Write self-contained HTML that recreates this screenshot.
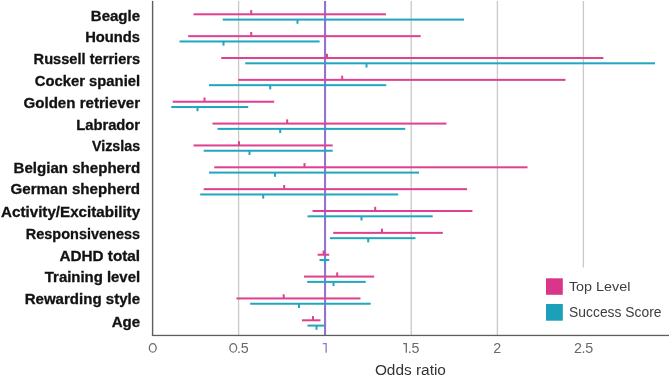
<!DOCTYPE html>
<html><head><meta charset="utf-8"><style>
html,body{margin:0;padding:0;background:#fff;}
body{width:669px;height:375px;overflow:hidden;position:relative;}
svg{position:absolute;left:0;top:0;will-change:transform;}
text{font-family:"Liberation Sans",sans-serif;}
</style></head><body>
<svg width="669" height="375" viewBox="0 0 669 375">

<rect x="237.95" y="1" width="1.3" height="334.00" fill="#c9c9c9"/>
<rect x="410.55" y="1" width="1.3" height="334.00" fill="#c9c9c9"/>
<rect x="496.75" y="1" width="1.3" height="334.00" fill="#c9c9c9"/>
<rect x="582.75" y="1" width="1.3" height="266.50" fill="#c9c9c9"/>
<rect x="324" y="1" width="2.1" height="334.5" fill="#9474ca"/>
<rect x="193.50" y="13.30" width="192.50" height="2.0" fill="#dd4190"/>
<rect x="250.20" y="10.10" width="2" height="4.20" fill="#dd4190"/>
<rect x="188.20" y="35.16" width="232.50" height="2.0" fill="#dd4190"/>
<rect x="250.20" y="31.96" width="2" height="4.20" fill="#dd4190"/>
<rect x="221.20" y="57.01" width="382.20" height="2.0" fill="#dd4190"/>
<rect x="326.00" y="53.81" width="2" height="4.20" fill="#dd4190"/>
<rect x="238.20" y="78.87" width="327.30" height="2.0" fill="#dd4190"/>
<rect x="341.20" y="75.67" width="2" height="4.20" fill="#dd4190"/>
<rect x="172.70" y="100.73" width="101.50" height="2.0" fill="#dd4190"/>
<rect x="203.50" y="97.53" width="2" height="4.20" fill="#dd4190"/>
<rect x="212.50" y="122.58" width="234.00" height="2.0" fill="#dd4190"/>
<rect x="286.20" y="119.38" width="2" height="4.20" fill="#dd4190"/>
<rect x="193.50" y="144.44" width="139.20" height="2.0" fill="#dd4190"/>
<rect x="238.00" y="141.24" width="2" height="4.20" fill="#dd4190"/>
<rect x="214.20" y="166.30" width="313.30" height="2.0" fill="#dd4190"/>
<rect x="303.50" y="163.10" width="2" height="4.20" fill="#dd4190"/>
<rect x="203.70" y="188.16" width="263.40" height="2.0" fill="#dd4190"/>
<rect x="283.20" y="184.96" width="2" height="4.20" fill="#dd4190"/>
<rect x="312.50" y="210.01" width="159.90" height="2.0" fill="#dd4190"/>
<rect x="374.20" y="206.81" width="2" height="4.20" fill="#dd4190"/>
<rect x="333.20" y="231.87" width="109.60" height="2.0" fill="#dd4190"/>
<rect x="381.00" y="228.67" width="2" height="4.20" fill="#dd4190"/>
<rect x="317.60" y="253.73" width="11.60" height="2.0" fill="#dd4190"/>
<rect x="322.60" y="250.53" width="2" height="4.20" fill="#dd4190"/>
<rect x="304.00" y="275.58" width="70.20" height="2.0" fill="#dd4190"/>
<rect x="336.20" y="272.38" width="2" height="4.20" fill="#dd4190"/>
<rect x="236.50" y="297.44" width="124.00" height="2.0" fill="#dd4190"/>
<rect x="282.70" y="294.24" width="2" height="4.20" fill="#dd4190"/>
<rect x="302.00" y="319.30" width="18.50" height="2.0" fill="#dd4190"/>
<rect x="312.00" y="316.10" width="2" height="4.20" fill="#dd4190"/>
<rect x="222.70" y="18.60" width="241.30" height="2.0" fill="#22a6bf"/>
<rect x="296.50" y="19.60" width="2" height="4.20" fill="#22a6bf"/>
<rect x="179.50" y="40.46" width="140.10" height="2.0" fill="#22a6bf"/>
<rect x="222.50" y="41.46" width="2" height="4.20" fill="#22a6bf"/>
<rect x="245.20" y="62.31" width="409.80" height="2.0" fill="#22a6bf"/>
<rect x="365.50" y="63.31" width="2" height="4.20" fill="#22a6bf"/>
<rect x="209.00" y="84.17" width="177.20" height="2.0" fill="#22a6bf"/>
<rect x="269.20" y="85.17" width="2" height="4.20" fill="#22a6bf"/>
<rect x="171.20" y="106.03" width="77.00" height="2.0" fill="#22a6bf"/>
<rect x="196.50" y="107.03" width="2" height="4.20" fill="#22a6bf"/>
<rect x="217.50" y="127.88" width="187.70" height="2.0" fill="#22a6bf"/>
<rect x="279.20" y="128.88" width="2" height="4.20" fill="#22a6bf"/>
<rect x="203.70" y="149.74" width="129.00" height="2.0" fill="#22a6bf"/>
<rect x="248.50" y="150.74" width="2" height="4.20" fill="#22a6bf"/>
<rect x="209.00" y="171.60" width="210.00" height="2.0" fill="#22a6bf"/>
<rect x="274.00" y="172.60" width="2" height="4.20" fill="#22a6bf"/>
<rect x="200.20" y="193.46" width="198.00" height="2.0" fill="#22a6bf"/>
<rect x="262.20" y="194.46" width="2" height="4.20" fill="#22a6bf"/>
<rect x="307.50" y="215.31" width="125.20" height="2.0" fill="#22a6bf"/>
<rect x="360.50" y="216.31" width="2" height="4.20" fill="#22a6bf"/>
<rect x="330.00" y="237.17" width="85.50" height="2.0" fill="#22a6bf"/>
<rect x="367.20" y="238.17" width="2" height="4.20" fill="#22a6bf"/>
<rect x="319.50" y="259.03" width="9.70" height="2.0" fill="#22a6bf"/>
<rect x="324.00" y="260.03" width="2" height="4.20" fill="#22a6bf"/>
<rect x="307.20" y="280.88" width="58.50" height="2.0" fill="#22a6bf"/>
<rect x="332.50" y="281.88" width="2" height="4.20" fill="#22a6bf"/>
<rect x="250.20" y="302.74" width="120.50" height="2.0" fill="#22a6bf"/>
<rect x="298.00" y="303.74" width="2" height="4.20" fill="#22a6bf"/>
<rect x="307.50" y="324.60" width="17.00" height="2.0" fill="#22a6bf"/>
<rect x="315.50" y="325.60" width="2" height="4.20" fill="#22a6bf"/>
<rect x="151.9" y="0.9" width="1.4" height="335.1" fill="#5e5e5e"/>
<rect x="151.9" y="334.8" width="517.1" height="1.3" fill="#5e5e5e"/>
<text x="90.80" y="20.50" font-size="14.2" font-weight="bold" fill="#121212" stroke="#121212" stroke-width="0.3" textLength="49.30" lengthAdjust="spacingAndGlyphs">Beagle</text>
<text x="85.20" y="42.20" font-size="14.2" font-weight="bold" fill="#121212" stroke="#121212" stroke-width="0.3" textLength="54.90" lengthAdjust="spacingAndGlyphs">Hounds</text>
<text x="33.60" y="63.90" font-size="14.2" font-weight="bold" fill="#121212" stroke="#121212" stroke-width="0.3" textLength="106.50" lengthAdjust="spacingAndGlyphs">Russell terriers</text>
<text x="34.80" y="86.00" font-size="14.2" font-weight="bold" fill="#121212" stroke="#121212" stroke-width="0.3" textLength="105.30" lengthAdjust="spacingAndGlyphs">Cocker spaniel</text>
<text x="23.50" y="107.70" font-size="14.2" font-weight="bold" fill="#121212" stroke="#121212" stroke-width="0.3" textLength="116.60" lengthAdjust="spacingAndGlyphs">Golden retriever</text>
<text x="76.20" y="129.50" font-size="14.2" font-weight="bold" fill="#121212" stroke="#121212" stroke-width="0.3" textLength="63.90" lengthAdjust="spacingAndGlyphs">Labrador</text>
<text x="91.90" y="151.00" font-size="14.2" font-weight="bold" fill="#121212" stroke="#121212" stroke-width="0.3" textLength="48.20" lengthAdjust="spacingAndGlyphs">Vizslas</text>
<text x="13.50" y="173.10" font-size="14.2" font-weight="bold" fill="#121212" stroke="#121212" stroke-width="0.3" textLength="126.60" lengthAdjust="spacingAndGlyphs">Belgian shepherd</text>
<text x="10.50" y="194.40" font-size="14.2" font-weight="bold" fill="#121212" stroke="#121212" stroke-width="0.3" textLength="129.60" lengthAdjust="spacingAndGlyphs">German shepherd</text>
<text x="1.10" y="216.90" font-size="14.2" font-weight="bold" fill="#121212" stroke="#121212" stroke-width="0.3" textLength="139.00" lengthAdjust="spacingAndGlyphs">Activity/Excitability</text>
<text x="25.80" y="239.40" font-size="14.2" font-weight="bold" fill="#121212" stroke="#121212" stroke-width="0.3" textLength="114.30" lengthAdjust="spacingAndGlyphs">Responsiveness</text>
<text x="59.40" y="260.90" font-size="14.2" font-weight="bold" fill="#121212" stroke="#121212" stroke-width="0.3" textLength="80.70" lengthAdjust="spacingAndGlyphs">ADHD total</text>
<text x="44.80" y="282.40" font-size="14.2" font-weight="bold" fill="#121212" stroke="#121212" stroke-width="0.3" textLength="95.30" lengthAdjust="spacingAndGlyphs">Training level</text>
<text x="24.70" y="304.40" font-size="14.2" font-weight="bold" fill="#121212" stroke="#121212" stroke-width="0.3" textLength="115.40" lengthAdjust="spacingAndGlyphs">Rewarding style</text>
<text x="111.70" y="326.50" font-size="14.2" font-weight="bold" fill="#121212" stroke="#121212" stroke-width="0.3" textLength="28.40" lengthAdjust="spacingAndGlyphs">Age</text>
<ellipse cx="152.75" cy="347.9" rx="3.4" ry="4.25" fill="none" stroke="#6a6a6a" stroke-width="1.3"/>
<ellipse cx="233.25" cy="347.9" rx="3.4" ry="4.25" fill="none" stroke="#6a6a6a" stroke-width="1.3"/>
<text x="239.10" y="352.8" font-size="14.3" fill="#6a6a6a" text-anchor="middle">.</text>
<text x="244.75" y="352.8" font-size="14.3" fill="#6a6a6a" text-anchor="middle">5</text>
<path d="M322.90 343.65 H326.15 V352.8" fill="none" stroke="#9474ca" stroke-width="1.3"/>
<path d="M403.20 343.65 H406.30 V352.8" fill="none" stroke="#6a6a6a" stroke-width="1.3"/>
<text x="409.85" y="352.8" font-size="14.3" fill="#6a6a6a" text-anchor="middle">.</text>
<text x="415.50" y="352.8" font-size="14.3" fill="#6a6a6a" text-anchor="middle">5</text>
<text x="497.30" y="352.8" font-size="14.3" fill="#6a6a6a" text-anchor="middle">2</text>
<text x="577.90" y="352.8" font-size="14.3" fill="#6a6a6a" text-anchor="middle">2</text>
<text x="583.50" y="352.8" font-size="14.3" fill="#6a6a6a" text-anchor="middle">.</text>
<text x="589.20" y="352.8" font-size="14.3" fill="#6a6a6a" text-anchor="middle">5</text>
<text x="374.9" y="375.4" font-size="14" fill="#333" textLength="71" lengthAdjust="spacingAndGlyphs">Odds ratio</text>
<rect x="546" y="278.3" width="16.8" height="16.5" fill="#d9368a"/>
<rect x="546" y="304" width="16.8" height="16.7" fill="#1aa0b8"/>
<text x="568.9" y="291.0" font-size="13.7" fill="#3d3d3d" textLength="61.5" lengthAdjust="spacingAndGlyphs">Top Level</text>
<text x="569.1" y="317.1" font-size="13.9" fill="#3d3d3d" textLength="92.4" lengthAdjust="spacingAndGlyphs">Success Score</text>
</svg>
</body></html>
